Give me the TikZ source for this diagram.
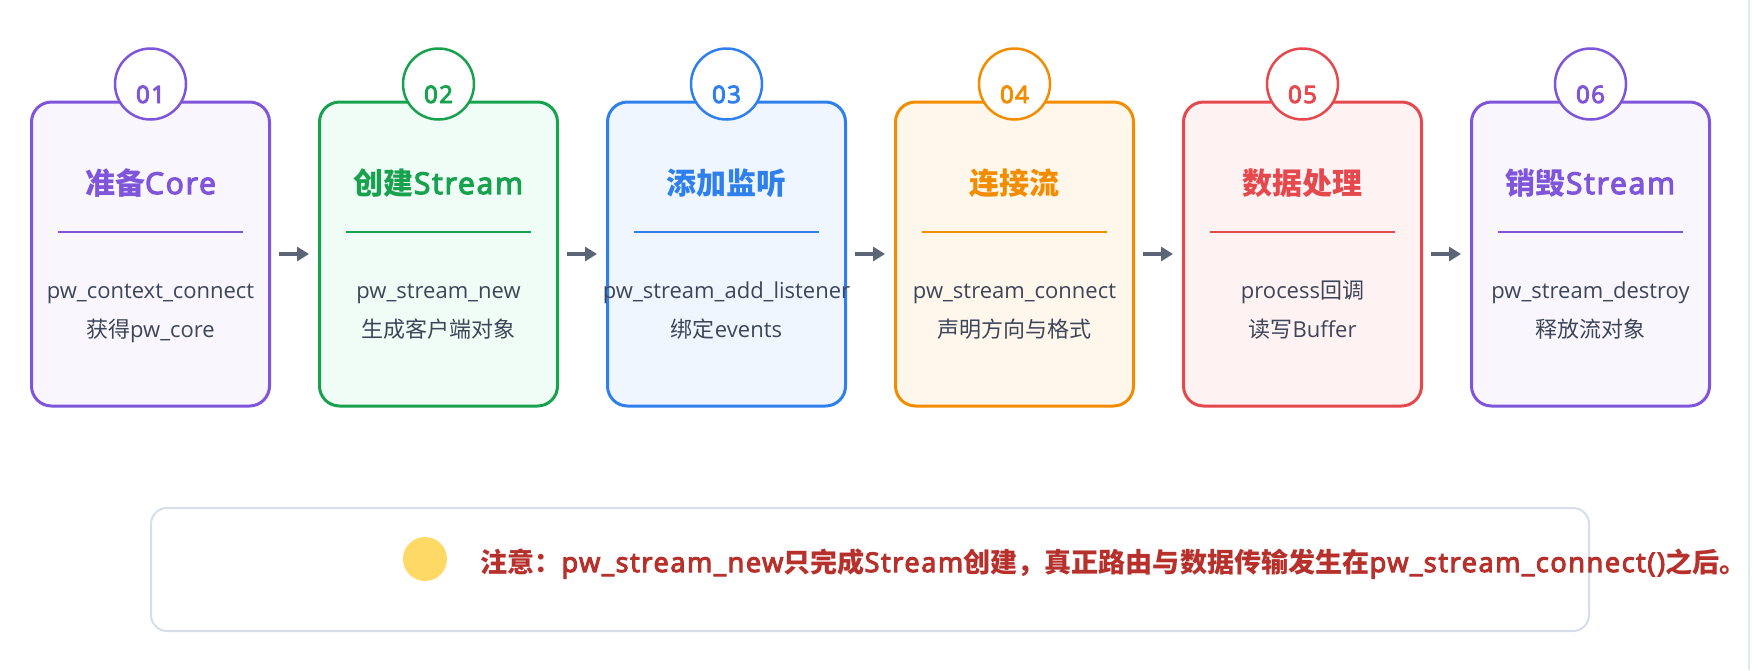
\documentclass[tikz,border=0pt]{standalone}
\usepackage{fontspec}
\setmainfont{Open Sans}[BoldFont={Open Sans}, BoldFeatures={FakeBold=4, LetterSpace=6}]
\newfontfamily\cjk{Noto Sans CJK SC}
\usetikzlibrary{arrows.meta}
\definecolor{cpur}{HTML}{7F56D9}
\definecolor{fpur}{HTML}{F9F6FE}
\definecolor{cgrn}{HTML}{18A250}
\definecolor{fgrn}{HTML}{F0FDF6}
\definecolor{cblu}{HTML}{2F80ED}
\definecolor{fblu}{HTML}{EFF6FF}
\definecolor{corg}{HTML}{F28C00}
\definecolor{forg}{HTML}{FFF7EC}
\definecolor{cred}{HTML}{E5484D}
\definecolor{fred}{HTML}{FEF2F2}
\definecolor{bodyc}{HTML}{3D4659}
\definecolor{arrc}{HTML}{5B6577}
\definecolor{noteb}{HTML}{D6DEEB}
\definecolor{notet}{HTML}{B7312C}
\definecolor{gold}{HTML}{FFD966}
\definecolor{edgeg}{HTML}{E2E8F0}
\newcommand\mkcard[8]{%
  \node[card, draw=#3, fill=#4] (b#1) at (#2,254) {};
  \draw[color=#3, line width=2pt] (#2-92.5,232) -- (#2+92.5,232);
  \node[numcirc, draw=#3] (c#1) at (#2,84) {};
  \node[numtxt, text=#3] (n#1) at (#2,103) {#5};
  \node[titletxt, text=#3] (t#1) at (#2,194) {#6};
  \node[bodytxt] (l#1) at (#2,298) {#7};
  \node[bodytxt] (m#1) at (#2,337) {#8};
}
\begin{document}
\begin{tikzpicture}[x=1pt,y=-1pt,
  card/.style={line width=3pt, rounded corners=20pt, minimum width=238pt, minimum height=304pt, inner sep=0pt},
  numcirc/.style={circle, fill=white, line width=2.5pt, minimum size=71pt, inner sep=0pt},
  numtxt/.style={anchor=base, inner sep=0pt, font=\fontsize{24}{28}\selectfont\bfseries},
  titletxt/.style={anchor=base, inner sep=0pt, font=\fontsize{30}{36}\selectfont\bfseries},
  bodytxt/.style={anchor=base, inner sep=0pt, text=bodyc, font=\fontsize{22}{26}\selectfont},
  flow/.style={draw=arrc, line width=3.5pt, -{Triangle[length=12pt,width=14pt]}, shorten <=8pt, shorten >=9pt}]
\useasboundingbox (0,0) rectangle (1758,670);
\fill[white] (0,0) rectangle (1758,670);
\draw[line width=2pt, color=edgeg] (1749,0) -- (1749,670);
\mkcard{1}{150.5}{cpur}{fpur}{01}{{\cjk 准备}Core}{pw\_context\_connect}{{\cjk 获得}pw\_core}
\mkcard{2}{438.5}{cgrn}{fgrn}{02}{{\cjk 创建}Stream}{pw\_stream\_new}{{\cjk 生成客户端对象}}
\mkcard{3}{726.5}{cblu}{fblu}{03}{{\cjk 添加监听}}{pw\_stream\_add\_listener}{{\cjk 绑定}events}
\mkcard{4}{1014.5}{corg}{forg}{04}{{\cjk 连接流}}{pw\_stream\_connect}{{\cjk 声明方向与格式}}
\mkcard{5}{1302.5}{cred}{fred}{05}{{\cjk 数据处理}}{process{\cjk 回调}}{{\cjk 读写}Buffer}
\mkcard{6}{1590.5}{cpur}{fpur}{06}{{\cjk 销毁}Stream}{pw\_stream\_destroy}{{\cjk 释放流对象}}
\draw[flow] (b1) -- (b2);
\draw[flow] (b2) -- (b3);
\draw[flow] (b3) -- (b4);
\draw[flow] (b4) -- (b5);
\draw[flow] (b5) -- (b6);
\node[draw=noteb, line width=2pt, rounded corners=16pt, fill=white, minimum width=1438pt, minimum height=123pt, inner sep=0pt] (note) at (870,569.5) {};
\node[circle, fill=gold, minimum size=44pt, inner sep=0pt] (dot) at (425,559) {};
\node[anchor=base west, inner sep=0pt, text=notet, font=\fontsize{27.1}{32}\selectfont\bfseries] (notetext) at (480,572) {{\cjk 注意：}pw\_stream\_new{\cjk 只完成}Stream{\cjk 创建，真正路由与数据传输发生在}pw\_stream\_connect(){\cjk 之后。}};
\end{tikzpicture}
\end{document}
